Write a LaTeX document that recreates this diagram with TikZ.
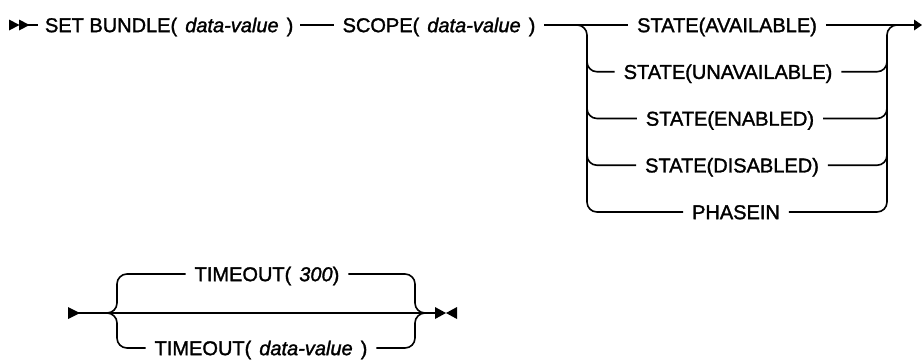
\documentclass[tikz,border=0pt]{standalone}
\usepackage{fontspec}
\setmainfont{Liberation Sans}[FakeBold=1.5]
\newfontfamily\itf{Liberation Sans}[FakeBold=1.5]
\newcommand\gapx{\hspace{8pt}}
\newcommand\pv[1]{{\itf\itshape #1}}
\begin{document}
\begin{tikzpicture}[x=1pt,y=-1pt,
  lbl/.style={inner sep=0pt, outer xsep=9pt, outer ysep=0pt, text height=14.3pt, text depth=0pt,
              font=\fontsize{20}{22}\selectfont},
  rail/.style={draw, line width=1.6pt, rounded corners=10pt},
  line/.style={draw, line width=1.6pt},
  tip/.style={fill=black}]
\useasboundingbox (0,0) rectangle (922,360);

% ---------- top row ----------
\coordinate (s0) at (28,25);
\fill[tip] (9,19.5) -- (19.5,25) -- (9,30.5) -- cycle;
\fill[tip] (19,19.5) -- (29.5,25) -- (19,30.5) -- cycle;
\node[lbl,anchor=west,outer xsep=0pt] (set) at (45,25) {SET BUNDLE(\gapx\pv{data-value}\gapx)};
\node[lbl] (scope) at (439,25) {SCOPE(\gapx\pv{data-value}\gapx)};

\node[lbl] (a1) at (727,25)   {STATE(AVAILABLE)};
\node[lbl] (a2) at (728,71.75) {STATE(UNAVAILABLE)};
\node[lbl] (a3) at (730,118.5) {STATE(ENABLED)};
\node[lbl] (a4) at (732,165.25) {STATE(DISABLED)};
\node[lbl] (a5) at (736,212)  {PHASEIN};

\coordinate (L)  at (587,25);
\coordinate (Lt) at (587,40);
\coordinate (R)  at (887,25);
\coordinate (Rt) at (887,40);
\coordinate (e0) at (916,25);

\draw[line] (s0) -- ([xshift=-7pt]set.west);
\draw[line] ([xshift=7pt]set.east) -- (scope.west);
\draw[line] (scope.east) -- (a1.west);
\draw[line] (a1.east) -- (e0);
\fill[tip] (914,19.5) -- (922,25) -- (914,30.5) -- cycle;

% left rail
\draw[rail] (scope.east) -- (L) -- (L |- a5) -- (a5.west);
\draw[rail] (Lt) -- (Lt |- a2) -- (a2.west);
\draw[rail] (Lt) -- (Lt |- a3) -- (a3.west);
\draw[rail] (Lt) -- (Lt |- a4) -- (a4.west);
% right rail
\draw[rail] (a5.east) -- (R |- a5) -- (R) -- (e0);
\draw[rail] (a2.east) -- (R |- a2) -- (Rt);
\draw[rail] (a3.east) -- (R |- a3) -- (Rt);
\draw[rail] (a4.east) -- (R |- a4) -- (Rt);

% ---------- bottom row ----------
\coordinate (b0) at (78,313);
\coordinate (bl) at (107,313);
\coordinate (BL) at (117,313);
\coordinate (BR) at (415,313);
\coordinate (br) at (425,313);
\coordinate (b1) at (436,313);
\fill[tip] (68,307) -- (80,313) -- (68,319) -- cycle;

\node[lbl] (t1) at (267,274) {TIMEOUT(\gapx\pv{300})};
\node[lbl] (t2) at (261,348) {TIMEOUT(\gapx\pv{data-value}\gapx)};

\draw[line] (b0) -- (b1);
\draw[rail] (bl) -- (BL) -- (BL |- t1) -- (t1.west);
\draw[rail] (bl) -- (BL) -- (BL |- t2) -- (t2.west);
\draw[rail] (t1.east) -- (BR |- t1) -- (BR) -- (br);
\draw[rail] (t2.east) -- (BR |- t2) -- (BR) -- (br);

\fill[tip] (435,307) -- (446,313) -- (435,319) -- cycle;
\fill[tip] (457,307) -- (446,313) -- (457,319) -- cycle;
\end{tikzpicture}
\end{document}
